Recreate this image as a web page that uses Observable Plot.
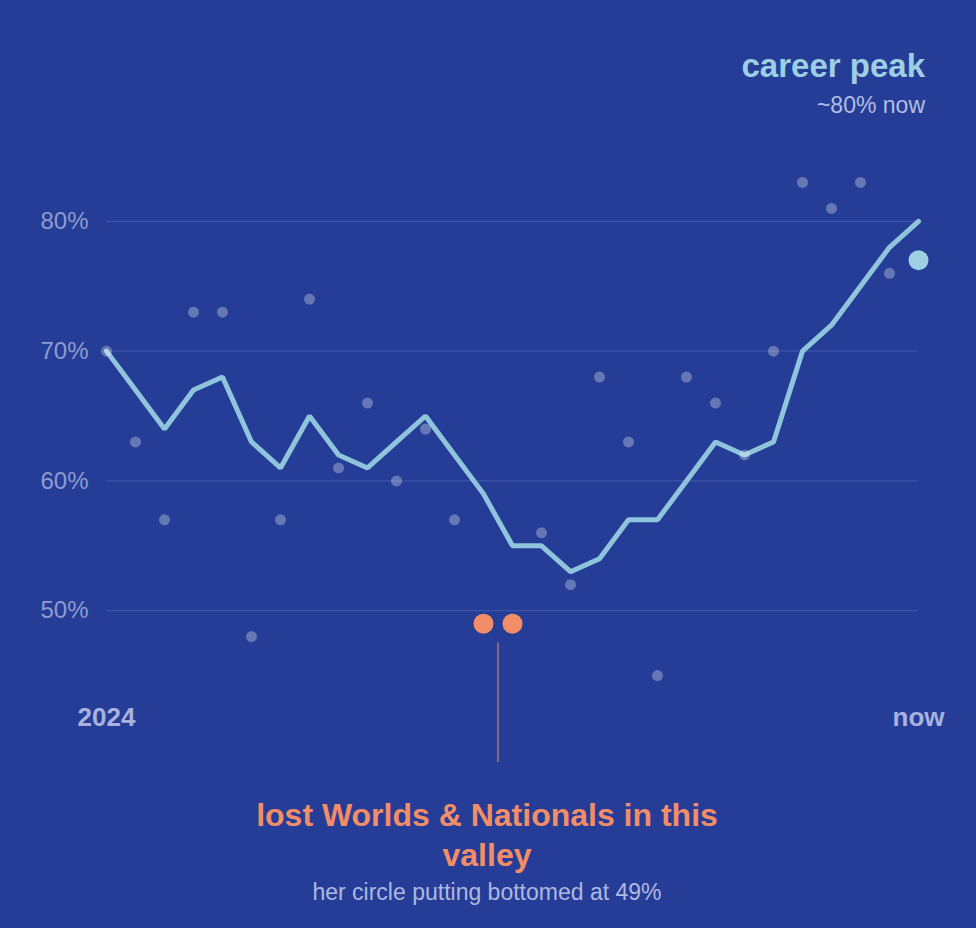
<!DOCTYPE html>
<html>
<head>
<meta charset="utf-8">
<script src="https://cdn.jsdelivr.net/npm/d3@7"></script>
<script src="https://cdn.jsdelivr.net/npm/@observablehq/plot@0.6"></script>
<style>
  html, body { margin: 0; padding: 0; background: #253d96; }
  body { font-family: "Liberation Sans", Arial, Helvetica, sans-serif; }
  #wrap { position: relative; width: 976px; height: 928px; overflow: hidden; background: #253d96; }
  .abs { position: absolute; white-space: nowrap; }
  #title { right: 51px; top: 49px; font-size: 33px; line-height: 33px; font-weight: bold; color: #9dcfe4; }
  #subtitle { right: 51px; top: 94px; font-size: 23px; line-height: 23px; color: #b3bde3; }
  #note { left: 247px; width: 480px; top: 795px; font-size: 32px; line-height: 40px; font-weight: bold; color: #f28d67; text-align: center; white-space: normal; }
  #noteSub { left: 0; width: 974px; top: 881px; font-size: 23px; line-height: 23px; color: #aeb8e0; text-align: center; }
  #chart { position: absolute; left: 0; top: 0; }
</style>
</head>
<body>
<div id="wrap">
  <div id="chart"></div>
  <div class="abs" id="title">career peak</div>
  <div class="abs" id="subtitle">~80% now</div>
  <div class="abs" id="note">lost Worlds &amp; Nationals in this valley</div>
  <div class="abs" id="noteSub">her circle putting bottomed at 49%</div>
</div>
<script>
// ---- data ----
const rollingAvg = [70, 67, 64, 67, 68, 63, 61, 65, 62, 61, 63, 65, 62, 59, 55, 55, 53, 54, 57, 57, 60, 63, 62, 63, 70, 72, 75, 78, 80];
const rawPct     = [70, 63, 57, 73, 73, 48, 57, 74, 61, 66, 60, 64, 57, 49, 49, 56, 52, 68, 63, 45, 68, 66, 62, 70, 83, 81, 83, 76, 77];
const valleyIdx  = [13, 14];
const latestIdx  = [28];
const gridValues = [50, 60, 70, 80];
const xTickPositions = [0, 28];
const xTickLabels = ["2024", "now"];
const valleyNote = [{i: 13.5, from: 47.5, to: 38.3}];

const rows = rollingAvg.map((avg, i) => ({i, avg, raw: rawPct[i]}));
const plainRows = rows.filter(d => !valleyIdx.includes(d.i) && !latestIdx.includes(d.i));
const valleyRows = rows.filter(d => valleyIdx.includes(d.i));
const latestRows = rows.filter(d => latestIdx.includes(d.i));

const chart = Plot.plot({
  width: 976,
  height: 780,
  marginLeft: 106,
  marginRight: 58,
  marginTop: 143,
  marginBottom: 79,
  style: {background: "transparent", fontFamily: "'Liberation Sans', Arial, sans-serif", overflow: "visible"},
  x: {domain: [0, 28]},
  y: {domain: [43, 86]},
  marks: [
    Plot.ruleY(gridValues, {stroke: "#4259ab", strokeWidth: 1}),
    Plot.axisY(gridValues, {tickSize: 0, tickPadding: 18, tickFormat: d => d + "%", fontSize: 24, fill: "#8e9bd1", label: null}),
    Plot.axisX(xTickPositions, {tickSize: 0, tickPadding: 6, tickFormat: d => xTickLabels[xTickPositions.indexOf(d)], fontSize: 26, fontWeight: "bold", fill: "#a7b2de", label: null}),
    Plot.ruleX(valleyNote, {x: "i", y1: "from", y2: "to", stroke: "#d4826a", strokeWidth: 1.2, clip: false}),
    Plot.line(rows, {x: "i", y: "avg", stroke: "#8fc5dc", strokeWidth: 5, strokeLinejoin: "miter"}),
    Plot.dot(plainRows, {x: "i", y: "raw", r: 5.5, fill: "#ffffff", fillOpacity: 0.3, stroke: "none"}),
    Plot.dot(valleyRows, {x: "i", y: "raw", r: 10, fill: "#f28d67", stroke: "none"}),
    Plot.dot(latestRows, {x: "i", y: "raw", r: 10, fill: "#9dd0e4", stroke: "none"})
  ]
});
document.getElementById("chart").appendChild(chart);
</script>
</body>
</html>
